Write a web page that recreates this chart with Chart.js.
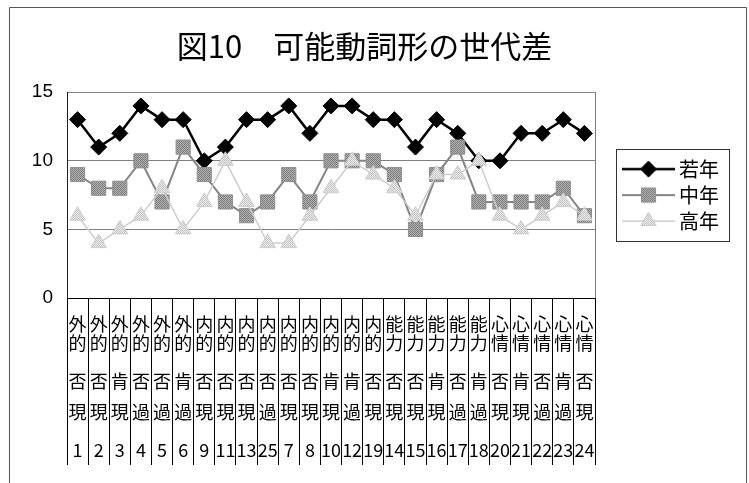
<!DOCTYPE html>
<html>
<head>
<meta charset="utf-8">
<title>図10 可能動詞形の世代差</title>
<script src="https://cdn.jsdelivr.net/npm/chart.js"></script>
<style>
  html, body { margin: 0; padding: 0; background: #ffffff; }
  #wrap { width: 749px; height: 483px; }
</style>
</head>
<body>
<div id="wrap"><canvas id="chart" width="749" height="483"></canvas></div>
<script>
// category label parts (one entry per column)
const groupLabels = ["外的", "外的", "外的", "外的", "外的", "外的", "内的", "内的", "内的", "内的", "内的", "内的", "内的", "内的", "内的",
    "能力", "能力", "能力", "能力", "能力", "心情", "心情", "心情", "心情", "心情"];
const polarityLabels = ["否", "否", "肯", "否", "否", "肯", "否", "否", "否", "否", "否", "否", "肯", "肯", "否",
    "否", "否", "肯", "否", "肯", "否", "肯", "否", "肯", "否"];
const tenseLabels = ["現", "現", "現", "過", "過", "過", "現", "現", "現", "過", "現", "現", "現", "過", "現",
    "現", "現", "現", "過", "過", "現", "現", "過", "過", "現"];
const itemNumbers = ["1", "2", "3", "4", "5", "6", "9", "11", "13", "25", "7", "8", "10", "12", "19",
    "14", "15", "16", "17", "18", "20", "21", "22", "23", "24"];

const seriesNames = ["若年", "中年", "高年"];
const youngValues = [13, 11, 12, 14, 13, 13, 10, 11, 13, 13, 14, 12, 14, 14, 13, 13, 11, 13, 12, 10, 10, 12, 12, 13, 12];
const middleValues = [9, 8, 8, 10, 7, 11, 9, 7, 6, 7, 9, 7, 10, 10, 10, 9, 5, 9, 11, 7, 7, 7, 7, 8, 6];
const oldValues = [6, 4, 5, 6, 8, 5, 7, 10, 7, 4, 4, 6, 8, 10, 9, 8, 6, 9, 9, 10, 6, 5, 6, 7, 6];

const yTicks = [0, 5, 10, 15];
const TITLE = "図10\u3000可能動詞形の世代差";
const JP_FONT = "'Noto Sans CJK JP', 'Noto Sans', sans-serif";

// rows of the category label, with blank spacer lines between them
function buildLabel(i) {
    const g = groupLabels[i];
    return [g[0], "", "", g[1], "", "", "", "", "", polarityLabels[i], "", "", "", "", tenseLabels[i],
        "", "", "", "", "", itemNumbers[i]];
}
const labels = groupLabels.map((_, i) => buildLabel(i));

// checkered (dithered) fills like the original print
function ditherPattern(dark, light) {
    const c = document.createElement("canvas");
    c.width = 2;
    c.height = 2;
    const cx = c.getContext("2d");
    cx.fillStyle = light;
    cx.fillRect(0, 0, 2, 2);
    cx.fillStyle = dark;
    cx.fillRect(0, 0, 1, 1);
    cx.fillRect(1, 1, 1, 1);
    return cx.createPattern(c, "repeat");
}

const STYLES = [
    { line: "#000000", lineWidth: 2.5, point: "rectRot", radius: 8, fill: "#000000", border: "#000000" },
    { line: "#858585", lineWidth: 2, point: "rect", radius: 10, fill: ditherPattern("#7a7a7a", "#b4b4b4"), border: "#8f8f8f" },
    { line: "#cdcdcd", lineWidth: 1.5, point: "triangle", radius: 9, fill: ditherPattern("#c4c4c4", "#ececec"), border: "#cccccc" },
];

function markerPath(ctx, style, x, y, r) {
    ctx.beginPath();
    if (style === "rectRot") {
        ctx.moveTo(x - r, y);
        ctx.lineTo(x, y - r);
        ctx.lineTo(x + r, y);
        ctx.lineTo(x, y + r);
    } else if (style === "rect") {
        const s = r * Math.SQRT1_2;
        ctx.rect(x - s, y - s, 2 * s, 2 * s);
    } else {
        ctx.moveTo(x, y - r);
        ctx.lineTo(x + Math.sin(Math.PI * 2 / 3) * r, y + r / 2);
        ctx.lineTo(x - Math.sin(Math.PI * 2 / 3) * r, y + r / 2);
    }
    ctx.closePath();
}

// legend sample: line with the marker in the middle
function legendSample(st) {
    const c = document.createElement("canvas");
    c.width = 80;
    c.height = 20;
    const cx = c.getContext("2d");
    cx.strokeStyle = st.line;
    cx.lineWidth = st.lineWidth;
    cx.beginPath();
    cx.moveTo(27, 10);
    cx.lineTo(80, 10);
    cx.stroke();
    markerPath(cx, st.point, 53.5, 10, st.radius);
    cx.fillStyle = st.fill;
    cx.fill();
    cx.lineWidth = 1;
    cx.strokeStyle = st.border;
    cx.stroke();
    return c;
}

const framePlugin = {
    id: "frame",
    beforeDatasetsDraw(chart) {
        const { ctx, chartArea } = chart;
        ctx.save();
        ctx.strokeStyle = "#7a7a7a";
        ctx.lineWidth = 1;
        ctx.beginPath();
        ctx.moveTo(Math.round(chartArea.right) + 0.5, chartArea.top);
        ctx.lineTo(Math.round(chartArea.right) + 0.5, chartArea.bottom);
        ctx.stroke();
        ctx.restore();
    },
    afterDraw(chart) {
        const { ctx } = chart;
        ctx.save();
        ctx.strokeStyle = "#555555";
        ctx.lineWidth = 1;
        ctx.beginPath();
        ctx.moveTo(9.5, 483);
        ctx.lineTo(9.5, 7.5);
        ctx.lineTo(746.5, 7.5);
        ctx.lineTo(746.5, 483);
        ctx.stroke();
        const hb = chart.legend.legendHitBoxes;
        if (hb && hb.length) {
            const left = Math.round(hb[0].left + 15) + 0.5;
            const right = Math.round(hb[0].left + 128) + 0.5;
            const top = Math.round(hb[0].top - 10) + 0.5;
            const last = hb[hb.length - 1];
            const bottom = Math.round(last.top + last.height + 10) + 0.5;
            ctx.strokeStyle = "#333333";
            ctx.strokeRect(left, top, right - left, bottom - top);
        }
        ctx.restore();
    },
};

const valueSets = [youngValues, middleValues, oldValues];
const datasets = valueSets.map((values, i) => ({
    label: seriesNames[i],
    data: values,
    borderColor: STYLES[i].line,
    borderWidth: STYLES[i].lineWidth,
    pointStyle: STYLES[i].point,
    pointRadius: STYLES[i].radius,
    pointHoverRadius: STYLES[i].radius,
    pointBackgroundColor: STYLES[i].fill,
    pointBorderColor: STYLES[i].border,
    pointBorderWidth: 1,
    tension: 0,
    fill: false,
    clip: false,
    order: 3 - i,
}));

new Chart(document.getElementById("chart"), {
    type: "line",
    data: { labels, datasets },
    options: {
        responsive: false,
        animation: false,
        devicePixelRatio: 1,
        layout: { padding: { left: 0, right: 20, top: 0, bottom: 0 } },
        scales: {
            x: {
                offset: true,
                grid: {
                    offset: true,
                    drawOnChartArea: false,
                    drawTicks: true,
                    tickLength: 167,
                    color: "#000000",
                    lineWidth: 1,
                },
                border: { color: "#000000", width: 1 },
                ticks: {
                    autoSkip: false,
                    maxRotation: 0,
                    minRotation: 0,
                    padding: -144,
                    color: "#000000",
                    font: { family: JP_FONT, size: 18, lineHeight: "6.3px" },
                },
                afterFit: (scale) => { scale.height = 185; },
            },
            y: {
                min: 0,
                max: 15,
                afterBuildTicks: (scale) => { scale.ticks = yTicks.map((v) => ({ value: v })); },
                grid: { color: "#808080", lineWidth: 1, drawTicks: false },
                border: { color: "#222222", width: 1 },
                ticks: {
                    padding: 14,
                    color: "#000000",
                    font: { family: "'Liberation Sans', Arial, sans-serif", size: 19 },
                },
                afterFit: (scale) => { scale.width = 67; },
            },
        },
        plugins: {
            title: {
                display: true,
                text: TITLE,
                color: "#000000",
                font: { family: JP_FONT, size: 31, weight: "normal", lineHeight: 1.2 },
                padding: { top: 28, bottom: 27 },
            },
            legend: {
                position: "right",
                fullSize: false,
                align: "center",
                labels: {
                    usePointStyle: true,
                    pointStyleWidth: 68,
                    padding: 6,
                    color: "#000000",
                    font: { family: JP_FONT, size: 20 },
                    generateLabels: () => seriesNames.map((name, i) => ({
                        text: name,
                        pointStyle: legendSample(STYLES[i]),
                        fillStyle: "transparent",
                        strokeStyle: "transparent",
                        lineWidth: 0,
                        fontColor: "#000000",
                        hidden: false,
                        datasetIndex: i,
                    })),
                },
            },
            tooltip: { enabled: false },
        },
    },
    plugins: [framePlugin],
});
</script>
</body>
</html>
